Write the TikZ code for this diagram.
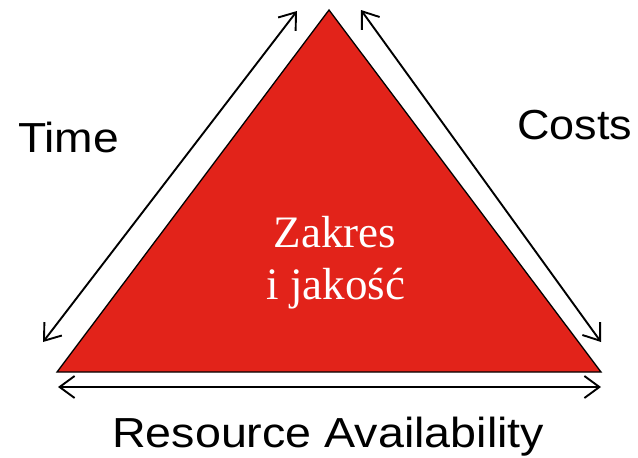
\documentclass[tikz,border=0pt]{standalone}
\usepackage{fontspec}
\setmainfont{Liberation Serif}
\setsansfont{Liberation Sans}
\usetikzlibrary{arrows.meta}
\definecolor{tri}{HTML}{E2231A}
\tikzset{
  dbl/.style={line width=1.9pt, {Straight Barb[length=15pt,width=22pt,line width=1.9pt]}-{Straight Barb[length=15pt,width=22pt,line width=1.9pt]}},
  lab/.style={inner sep=0pt, anchor=base west, font=\sffamily\fontsize{42}{42}\selectfont},
}
\begin{document}
\begin{tikzpicture}[x=1pt,y=-1pt]
\useasboundingbox (0,0) rectangle (638,458);
\coordinate (T) at (329,10);
\coordinate (L) at (57,372);
\coordinate (R) at (601,372);
\filldraw[fill=tri, draw=black, line width=1.3pt, line join=miter] (T) -- (L) -- (R) -- cycle;
\coordinate (a1) at (43,342);
\coordinate (a2) at (297,11);
\coordinate (b1) at (361,10);
\coordinate (b2) at (601,342);
\coordinate (c1) at (58,387);
\coordinate (c2) at (601,387);
\draw[dbl] (a1) -- (a2);
\draw[dbl] (b1) -- (b2);
\draw[dbl] (c1) -- (c2);
\node[lab] (time) at (18,152) {\scalebox{1.1}[1]{Time}};
\node[lab] (costs) at (517,139) {\scalebox{1.07}[1]{Costs}};
\node[lab] (res) at (112,447) {\scalebox{1.11}[1]{Resource Availability}};
\node[inner sep=0pt, text=white, font=\rmfamily\fontsize{45}{52}\selectfont, anchor=base] (z) at (335,247) {Zakres};
\node[inner sep=0pt, text=white, font=\rmfamily\fontsize{45}{52}\selectfont, anchor=base] (z2) at (336,299) {i jakość};
\end{tikzpicture}
\end{document}
